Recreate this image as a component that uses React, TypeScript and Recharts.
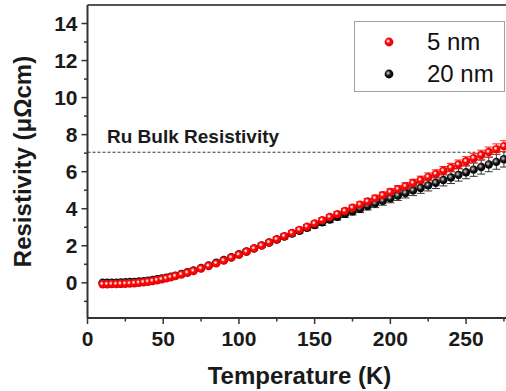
import React from 'react';
import { ErrorBar, Label, Legend, ReferenceLine, Scatter, ScatterChart, XAxis, YAxis } from 'recharts';

const TEMPS = [
  10, 13, 16, 19, 22, 25, 28, 31, 34, 37, 40, 43, 46, 49, 52, 55, 58, 62, 66, 70,
  75, 80, 85, 90, 95, 100, 105, 110, 115, 120, 125, 130, 135, 140, 145, 150, 155, 160, 165, 170,
  175, 180, 185, 190, 195, 200, 205, 210, 215, 220, 225, 230, 235, 240, 245, 250, 255, 260, 265, 270, 275,
];

const RHO_5NM = [
  -0.08, -0.08, -0.07, -0.07, -0.06, -0.05, -0.04, -0.02, 0.0, 0.03, 0.06, 0.1, 0.14, 0.19, 0.24, 0.3, 0.36, 0.45, 0.54, 0.64,
  0.77, 0.91, 1.05, 1.2, 1.36, 1.52, 1.68, 1.85, 2.01, 2.18, 2.35, 2.52, 2.69, 2.86, 3.03, 3.2, 3.38, 3.55, 3.71, 3.88,
  4.05, 4.22, 4.39, 4.56, 4.73, 4.9, 5.06, 5.22, 5.39, 5.55, 5.72, 5.88, 6.05, 6.22, 6.39, 6.56, 6.73, 6.9, 7.06, 7.22, 7.38,
];

const ERR_5NM = [
  0.02, 0.02, 0.02, 0.02, 0.02, 0.02, 0.02, 0.02, 0.03, 0.03, 0.03, 0.03, 0.03, 0.03, 0.04, 0.04, 0.04, 0.04, 0.04, 0.05,
  0.05, 0.05, 0.06, 0.06, 0.07, 0.07, 0.08, 0.08, 0.09, 0.09, 0.1, 0.1, 0.11, 0.11, 0.12, 0.12, 0.13, 0.13, 0.14, 0.14,
  0.15, 0.15, 0.16, 0.17, 0.17, 0.18, 0.19, 0.19, 0.2, 0.21, 0.21, 0.22, 0.23, 0.23, 0.24, 0.25, 0.26, 0.26, 0.27, 0.28, 0.29,
];

const RHO_20NM = [
  0.0, 0.0, 0.01, 0.01, 0.02, 0.03, 0.04, 0.05, 0.07, 0.09, 0.12, 0.15, 0.19, 0.23, 0.28, 0.33, 0.39, 0.48, 0.57, 0.67,
  0.8, 0.94, 1.08, 1.23, 1.38, 1.54, 1.7, 1.86, 2.02, 2.18, 2.34, 2.5, 2.66, 2.81, 2.97, 3.12, 3.27, 3.42, 3.57, 3.72,
  3.86, 4.0, 4.15, 4.29, 4.43, 4.57, 4.71, 4.85, 4.99, 5.12, 5.26, 5.4, 5.55, 5.69, 5.83, 5.97, 6.11, 6.25, 6.39, 6.53, 6.67,
];

const ERR_20NM = [
  0.02, 0.02, 0.02, 0.02, 0.02, 0.02, 0.02, 0.03, 0.03, 0.03, 0.03, 0.03, 0.04, 0.04, 0.04, 0.04, 0.05, 0.05, 0.05, 0.06,
  0.06, 0.06, 0.07, 0.07, 0.08, 0.09, 0.09, 0.1, 0.11, 0.11, 0.12, 0.13, 0.14, 0.14, 0.15, 0.16, 0.17, 0.17, 0.18, 0.19,
  0.2, 0.21, 0.22, 0.23, 0.24, 0.25, 0.26, 0.27, 0.28, 0.29, 0.3, 0.31, 0.32, 0.33, 0.34, 0.35, 0.36, 0.38, 0.39, 0.4, 0.42,
];

const BULK_RHO = 7.05;
const Y_TICKS = [-1, 0, 1, 2, 3, 4, 5, 6, 7, 8, 9, 10, 11, 12, 13, 14];
const X_TICKS = [0, 25, 50, 75, 100, 125, 150, 175, 200, 225, 250, 275];

const FONT = '"Liberation Sans", Arial, sans-serif';
const INK = '#1a1a1a';

const points = (rho: number[], err: number[]) => TEMPS.map((t, i) => ({ t, rho: rho[i], err: err[i] }));
const data5 = points(RHO_5NM, ERR_5NM);
const data20 = points(RHO_20NM, ERR_20NM);

function Ball({ cx, cy, fill }: { cx?: number; cy?: number; fill: string }) {
  if (cx == null || cy == null) return null;
  return <circle cx={cx} cy={cy} r={4.2} fill={fill} />;
}

function YTick({ x, y, payload }: any) {
  const v = payload.value;
  const major = v >= 0 && v % 2 === 0;
  return (
    <g>
      <line x1={x} x2={x - (major ? 6 : 3.5)} y1={y} y2={y} stroke="#333" strokeWidth={1.5} />
      {major && (
        <text x={x - 10} y={y + 7.5} textAnchor="end" fontFamily={FONT} fontWeight="bold" fontSize={21} fill={INK}>
          {v}
        </text>
      )}
    </g>
  );
}

function XTick({ x, y, payload }: any) {
  const v = payload.value;
  const major = v % 50 === 0;
  return (
    <g>
      <line x1={x} x2={x} y1={y} y2={y + (major ? 6 : 3.5)} stroke="#333" strokeWidth={1.5} />
      {major && (
        <text x={x} y={y + 28} textAnchor="middle" fontFamily={FONT} fontWeight="bold" fontSize={21} fill={INK}>
          {v}
        </text>
      )}
    </g>
  );
}

function LegendBox() {
  const row = (top: number, fill: string, label: string) => (
    <div style={{ position: 'absolute', left: 0, top, height: 30, width: '100%' }}>
      <svg width={40} height={30} style={{ position: 'absolute', left: 14, top: 0 }}>
        <circle cx={20} cy={15} r={4.4} fill={fill} />
      </svg>
      <span
        style={{
          position: 'absolute',
          left: 72,
          top: 0,
          lineHeight: '30px',
          fontFamily: FONT,
          fontSize: 24,
          color: '#111',
          whiteSpace: 'nowrap',
        }}
      >
        {label}
      </span>
    </div>
  );
  return (
    <div
      style={{
        position: 'relative',
        width: 151,
        height: 71,
        border: '1px solid #a0a0a0',
        boxSizing: 'border-box',
        background: '#fff',
      }}
    >
      {row(5, 'url(#ball-red)', '5 nm')}
      {row(37, 'url(#ball-black)', '20 nm')}
    </div>
  );
}

export default function App() {
  return (
    <div style={{ position: 'absolute', left: 0, top: 0, width: 506, height: 391, overflow: 'hidden', background: '#fff' }}>
      <ScatterChart width={530} height={391} margin={{ top: 5, right: 18.5, bottom: 0, left: 0 }}>
        <defs>
          <radialGradient id="ball-red" cx="40%" cy="40%" r="60%">
            <stop offset="0%" stopColor="#ffffff" />
            <stop offset="18%" stopColor="#ffb4b4" />
            <stop offset="40%" stopColor="#ff0a0a" />
            <stop offset="100%" stopColor="#e00000" />
          </radialGradient>
          <radialGradient id="ball-black" cx="40%" cy="40%" r="60%">
            <stop offset="0%" stopColor="#e0e0e0" />
            <stop offset="22%" stopColor="#808080" />
            <stop offset="50%" stopColor="#151515" />
            <stop offset="100%" stopColor="#000000" />
          </radialGradient>
        </defs>
        <XAxis
          type="number"
          dataKey="t"
          domain={[0, 280]}
          ticks={X_TICKS}
          interval={0}
          height={73}
          tickSize={0}
          tickMargin={0}
          tickLine={false}
          tick={<XTick />}
          axisLine={{ stroke: '#333', strokeWidth: 2 }}
        >
          <Label
            content={({ viewBox }: any) => (
              <text
                x={viewBox.x + viewBox.width / 2}
                y={384}
                textAnchor="middle"
                fontFamily={FONT}
                fontWeight="bold"
                fontSize={24}
                fill={INK}
              >
                Temperature (K)
              </text>
            )}
          />
        </XAxis>
        <YAxis
          type="number"
          dataKey="rho"
          domain={[-1.9, 15]}
          ticks={Y_TICKS}
          interval={0}
          width={87.5}
          tickSize={0}
          tickMargin={0}
          tickLine={false}
          tick={<YTick />}
          axisLine={{ stroke: '#333', strokeWidth: 2 }}
        >
          <Label
            content={({ viewBox }: any) => {
              const cx = viewBox.x + 22;
              const cy = viewBox.y + viewBox.height / 2;
              return (
                <text
                  x={cx}
                  y={cy}
                  transform={`rotate(-90, ${cx}, ${cy})`}
                  textAnchor="middle"
                  dominantBaseline="central"
                  fontFamily={FONT}
                  fontWeight="bold"
                  fontSize={24}
                  fill={INK}
                >
                  Resistivity (μΩcm)
                </text>
              );
            }}
          />
        </YAxis>
        <ReferenceLine y={15} stroke="#555" strokeWidth={2} />
        <ReferenceLine
          y={BULK_RHO}
          stroke="#333"
          strokeWidth={1}
          strokeDasharray="3 2"
          label={({ viewBox }: any) => (
            <text x={viewBox.x + 19.5} y={viewBox.y - 9} fontFamily={FONT} fontWeight="bold" fontSize={19} fill={INK}>
              Ru Bulk Resistivity
            </text>
          )}
        />
        <Scatter
          name="20 nm"
          data={data20}
          isAnimationActive={false}
          shape={(p: any) => <Ball cx={p.cx} cy={p.cy} fill="url(#ball-black)" />}
        >
          <ErrorBar dataKey="err" direction="y" width={4} stroke="#333" strokeWidth={1} isAnimationActive={false} />
        </Scatter>
        <Scatter
          name="5 nm"
          data={data5}
          isAnimationActive={false}
          shape={(p: any) => <Ball cx={p.cx} cy={p.cy} fill="url(#ball-red)" />}
        >
          <ErrorBar dataKey="err" direction="y" width={4} stroke="#ff2020" strokeWidth={1} isAnimationActive={false} />
        </Scatter>
        <Legend
          layout="horizontal"
          verticalAlign="middle"
          align="center"
          wrapperStyle={{ left: 354, top: 21, width: 151, height: 71 }}
          content={() => <LegendBox />}
        />
      </ScatterChart>
    </div>
  );
}
